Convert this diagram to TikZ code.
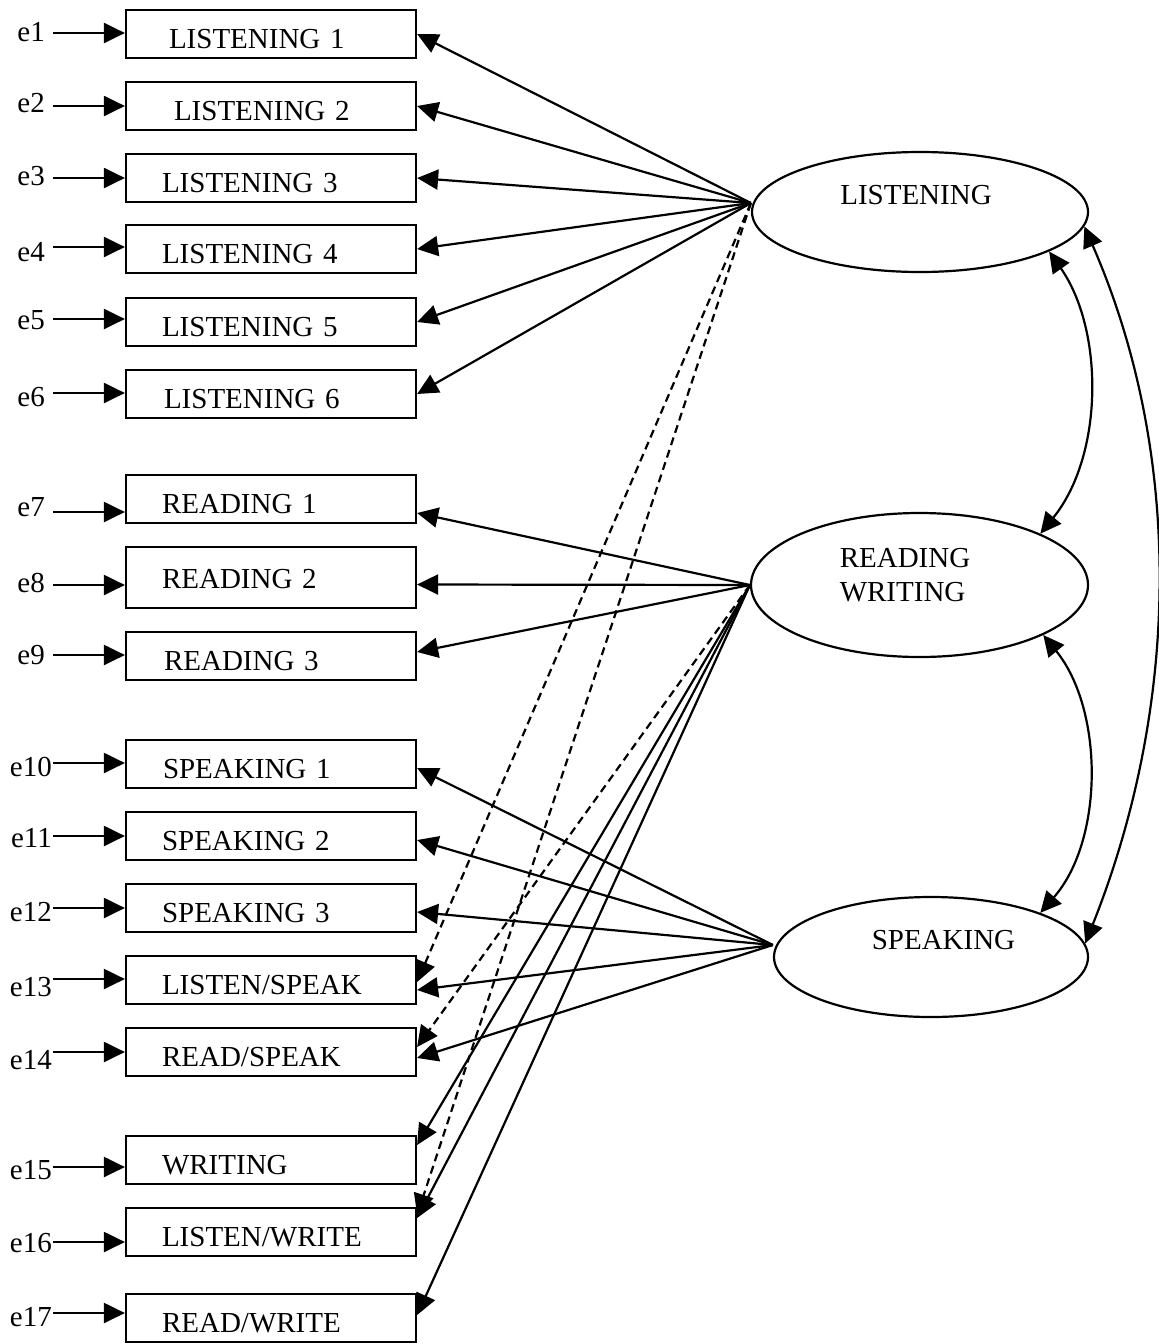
\documentclass[tikz,border=0pt]{standalone}
\usepackage{fontspec}
\setmainfont{Liberation Serif}
\usetikzlibrary{arrows.meta,shapes.geometric}
\begin{document}
\begin{tikzpicture}[x=1pt,y=-1pt,
  every node/.style={font=\fontsize{29pt}{34.5pt}\selectfont},
  obs/.style={draw, line width=2.2pt, rectangle, minimum height=48pt, text width=218pt,
    inner xsep=36pt, inner ysep=0pt, align=left, text height=29pt, text depth=0pt},
  latent/.style={draw, line width=2.2pt, ellipse, inner sep=0pt},
  lattext/.style={align=left, inner sep=0pt},
  elab/.style={anchor=east, inner sep=0pt},
  arrhead/.style={-{Triangle[length=21pt,width=20pt]}},
  loadline/.style={arrhead, line width=2.2pt},
  crossline/.style={loadline, dash pattern=on 8pt off 5pt},
  errline/.style={arrhead, line width=2.2pt},
  covline/.style={{Triangle[length=21pt,width=20pt]}-{Triangle[length=21pt,width=20pt]}, line width=2.2pt},
]
\useasboundingbox (0,0) rectangle (1159,1344);

% observed variables
\node[obs] (l1) at (271,34) {\hspace*{7pt}LISTENING 1};
\node[obs] (l2) at (271,106) {\hspace*{12pt}LISTENING 2};
\node[obs] (l3) at (271,178) {LISTENING 3};
\node[obs] (l4) at (271,249) {LISTENING 4};
\node[obs] (l5) at (271,322) {LISTENING 5};
\node[obs] (l6) at (271,394) {\hspace*{2pt}LISTENING 6};
\node[obs] (r1) at (271,499) {READING 1};
\node[obs, minimum height=61pt, text height=22pt] (r2) at (271,577.5) {READING 2};
\node[obs] (r3) at (271,656) {\hspace*{2pt}READING 3};
\node[obs] (s1) at (271,764) {\hspace*{1pt}SPEAKING 1};
\node[obs] (s2) at (271,836) {SPEAKING 2};
\node[obs] (s3) at (271,908) {SPEAKING 3};
\node[obs] (ls) at (271,980) {LISTEN/SPEAK};
\node[obs] (rs) at (271,1052) {READ/SPEAK};
\node[obs] (w) at (271,1160) {WRITING};
\node[obs] (lw) at (271,1232) {LISTEN/WRITE};
\node[obs] (rw) at (271,1318) {READ/WRITE};

% latent variables
\node[latent, minimum width=336pt, minimum height=120pt,
  label={[lattext, xshift=-4pt, yshift=17pt]center:LISTENING}] (LIS) at (920,212) {};
\node[latent, minimum width=337pt, minimum height=144pt,
  label={[lattext, xshift=-14.5pt, yshift=10pt]center:READING\\WRITING}] (RDW) at (919.5,585) {};
\node[latent, minimum width=314pt, minimum height=120pt,
  label={[lattext, xshift=12.5pt, yshift=17pt]center:SPEAKING}] (SPK) at (931,957) {};

\coordinate (Ls) at ([yshift=9pt]LIS.west);
\coordinate (Ss) at ([yshift=12pt]SPK.west);

% error terms
\node[elab] (e1) at (45,32) {e1};
\node[elab] (e2) at (45,103) {e2};
\node[elab] (e3) at (45,176) {e3};
\node[elab] (e4) at (45,252) {e4};
\node[elab] (e5) at (45,320) {e5};
\node[elab] (e6) at (45,397) {e6};
\node[elab] (e7) at (45,507) {e7};
\node[elab] (e8) at (45,583) {e8};
\node[elab] (e9) at (45,655) {e9};
\node[elab] (e10) at (52,767) {e10};
\node[elab] (e11) at (52,838) {e11};
\node[elab] (e12) at (52,912) {e12};
\node[elab] (e13) at (52,987) {e13};
\node[elab] (e14) at (52,1060) {e14};
\node[elab] (e15) at (52,1170) {e15};
\node[elab] (e16) at (52,1243) {e16};
\node[elab] (e17) at (52,1317) {e17};

\foreach \e/\b/\d/\s in {e1/l1/-1/8, e2/l2/-3/8, e3/l3/-2/8, e4/l4/5/8, e5/l5/1/8,
  e6/l6/4/8, e7/r1/-5/8, e8/r2/-2/8, e9/r3/0/8, e10/s1/4/1, e11/s2/2/1, e12/s3/4/1,
  e13/ls/8/1, e14/rs/8/1, e15/w/3/1, e16/lw/1/1, e17/rw/4/1}
  \draw[errline, shorten <=\s pt] ([yshift=\d pt]\e.east) -- ([yshift=\d pt]\e.east -| \b.west);

% loadings
\foreach \b in {l1,l2,l3,l4,l5,l6}
  \draw[loadline] (Ls) -- (\b.east);
\draw[loadline] (RDW.west) -- ([yshift=-14pt]r1.east);
\draw[loadline] (RDW.west) -- ([yshift=-7pt]r2.east);
\draw[loadline] (RDW.west) -- ([yshift=4pt]r3.east);
\draw[loadline] (Ss) -- ([yshift=-4pt]s1.east);
\draw[loadline] (Ss) -- ([yshift=-4pt]s2.east);
\draw[loadline] (Ss) -- ([yshift=-4pt]s3.east);
\draw[loadline] (Ss) -- ([yshift=-10pt]ls.east);
\draw[loadline] (Ss) -- ([yshift=-6pt]rs.east);
\draw[crossline] (Ls) -- ([yshift=-2pt]ls.east);
\draw[crossline] (RDW.west) -- ([yshift=5pt]rs.east);
\draw[crossline] (Ls) -- ([yshift=17pt]lw.east);
\draw[loadline] (RDW.west) -- ([yshift=15pt]w.east);
\draw[loadline] (RDW.west) -- ([yshift=14pt]lw.east);
\draw[loadline] (RDW.west) -- ([yshift=3pt]rw.east);

% covariances
\draw[covline] (LIS.-17) .. controls (1104,330) and (1104,455) .. (RDW.23);
\draw[covline] (RDW.-22) .. controls (1104,710) and (1104,840) .. (SPK.22);
\draw[covline] (LIS.-5) .. controls (1182,450) and (1182,700) .. (SPK.5);
\end{tikzpicture}
\end{document}
